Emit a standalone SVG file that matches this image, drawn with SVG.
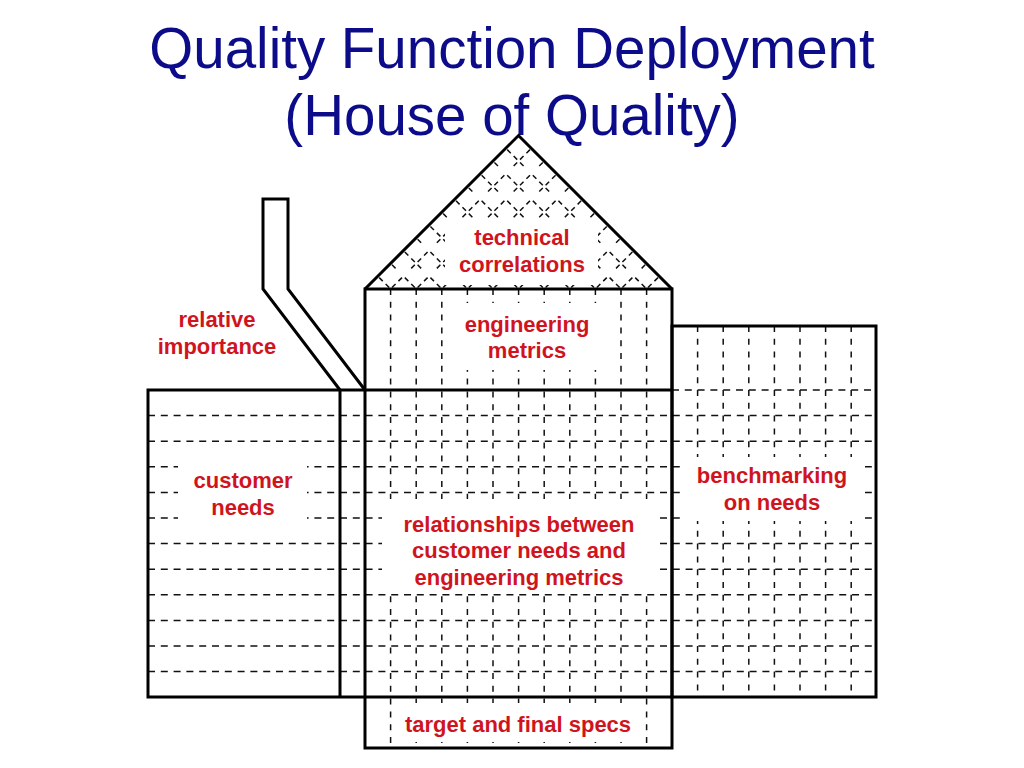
<svg xmlns="http://www.w3.org/2000/svg" width="1024" height="768" viewBox="0 0 1024 768">
  <style>
    .title { font-family: "Liberation Sans", Arial, sans-serif; font-size: 56.5px; fill: #0c0c8a; text-anchor: middle; }
    .lbl { font-family: "Liberation Sans", Arial, sans-serif; font-size: 22px; font-weight: bold; fill: #d0141e; text-anchor: middle; }
    .solid { fill: none; stroke: #000; stroke-width: 3; stroke-linejoin: miter; }
    .dashh { fill: none; stroke: #111; stroke-width: 1.5; stroke-dasharray: 7 5.8; }
    .dashv { fill: none; stroke: #111; stroke-width: 1.5; stroke-dasharray: 6 6.8; }
    .dashd { fill: none; stroke: #111; stroke-width: 1.5; stroke-dasharray: 5 4.1 5 13.1 5 4; stroke-dashoffset: 34.2; }
    .mask { fill: #fff; stroke: none; }
  </style>
  <rect width="1024" height="768" fill="#fff"/>

  <g id="title">
    <text class="title" x="512" y="68">Quality Function Deployment</text>
    <text class="title" x="512" y="135">(House of Quality)</text>
  </g>

  <g id="roof">
    <path class="dashd" d="M390.6 289L531.3 148.3M416.2 289L544.1 161.1M441.8 289L556.9 173.9M467.4 289L569.7 186.7M493 289L582.5 199.5M518.6 289L595.3 212.3M544.2 289L608.1 225.1M569.8 289L620.9 237.9M595.4 289L633.7 250.7M621 289L646.5 263.5M646.6 289L659.3 276.3M390.6 289L377.8 276.2M416.2 289L390.6 263.4M441.8 289L403.4 250.6M467.4 289L416.2 237.8M493 289L429 225M518.6 289L441.8 212.2M544.2 289L454.6 199.4M569.8 289L467.4 186.6M595.4 289L480.2 173.8M621 289L493 161M646.6 289L505.8 148.2"/>
    <rect class="mask" x="445" y="218" width="153" height="67"/>
    <path class="solid" d="M365 289L518.5 135.5L672 289"/>
    <text class="lbl" x="522" y="245">technical</text>
    <text class="lbl" x="522" y="272">correlations</text>
  </g>

  <g id="grid">
    <path class="dashv" d="M390.6 289V748M416.2 289V748M441.8 289V748M467.4 289V748M493 289V748M518.6 289V748M544.2 289V748M569.8 289V748M595.4 289V748M621 289V748M646.6 289V748"/>
    <path class="dashv" d="M697.6 326V697M723.2 326V697M748.8 326V697M774.4 326V697M800 326V697M825.6 326V697M851.2 326V697"/>
    <path class="dashh" d="M672 390H876M148 415.6H876M148 441.2H876M148 466.8H876M148 492.4H876M148 518H876M148 543.6H876M148 569.2H876M148 594.8H876M148 620.4H876M148 646H876M148 671.6H876"/>
  </g>

  <g id="relative-importance">
    <path class="solid" d="M340 390L263 289V199H288V289L365 390"/>
    <text class="lbl" x="217" y="327">relative</text>
    <text class="lbl" x="217" y="354">importance</text>
  </g>

  <g id="customer-needs">
    <rect class="mask" x="178" y="452" width="129" height="78"/>
    <path class="solid" d="M365 390H148V697H365M340 390V697"/>
    <text class="lbl" x="243" y="488">customer</text>
    <text class="lbl" x="243" y="515">needs</text>
  </g>

  <g id="engineering-metrics">
    <rect class="mask" x="455" y="303" width="145" height="67"/>
    <rect class="solid" x="365" y="289" width="307" height="459"/>
    <path class="solid" d="M365 390H672"/>
    <text class="lbl" x="527" y="332">engineering</text>
    <text class="lbl" x="527" y="358">metrics</text>
  </g>

  <g id="relationships">
    <rect class="mask" x="382" y="499" width="276" height="93"/>
    <text class="lbl" x="519" y="532">relationships between</text>
    <text class="lbl" x="519" y="558">customer needs and</text>
    <text class="lbl" x="519" y="585">engineering metrics</text>
  </g>

  <g id="benchmarking">
    <rect class="mask" x="685" y="457" width="180" height="64"/>
    <rect class="solid" x="672" y="326" width="204" height="371"/>
    <text class="lbl" x="772" y="483">benchmarking</text>
    <text class="lbl" x="772" y="510">on needs</text>
  </g>

  <g id="target-specs">
    <rect class="mask" x="395" y="703" width="247" height="39"/>
    <path class="solid" d="M365 697H672"/>
    <text class="lbl" x="518" y="732">target and final specs</text>
  </g>
</svg>
